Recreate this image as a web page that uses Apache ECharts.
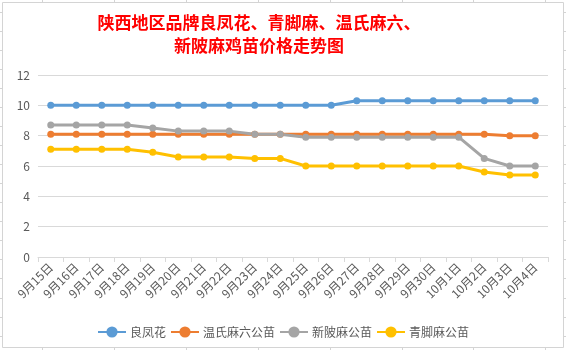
<!DOCTYPE html>
<html>
<head>
<meta charset="utf-8">
<script src="https://cdn.jsdelivr.net/npm/echarts@6/dist/echarts.min.js"></script>
<style>
  html, body { margin: 0; padding: 0; background: #fff; }
  #chart { width: 566px; height: 350px; }
</style>
</head>
<body>
<div id="chart"></div>
<script>
const dates = ['9月15日', '9月16日', '9月17日', '9月18日', '9月19日', '9月20日', '9月21日',
  '9月22日', '9月23日', '9月24日', '9月25日', '9月26日', '9月27日', '9月28日', '9月29日',
  '9月30日', '10月1日', '10月2日', '10月3日', '10月4日']

const liangfenghua = [10, 10, 10, 10, 10, 10, 10, 10, 10, 10, 10, 10, 10.3, 10.3, 10.3, 10.3, 10.3, 10.3, 10.3, 10.3]
const wenshi = [8.1, 8.1, 8.1, 8.1, 8.1, 8.1, 8.1, 8.1, 8.1, 8.1, 8.1, 8.1, 8.1, 8.1, 8.1, 8.1, 8.1, 8.1, 8.0, 8.0]
const xinpima = [8.7, 8.7, 8.7, 8.7, 8.5, 8.3, 8.3, 8.3, 8.1, 8.1, 7.9, 7.9, 7.9, 7.9, 7.9, 7.9, 7.9, 6.5, 6.0, 6.0]
const qingjiaoma = [7.1, 7.1, 7.1, 7.1, 6.9, 6.6, 6.6, 6.6, 6.5, 6.5, 6.0, 6.0, 6.0, 6.0, 6.0, 6.0, 6.0, 5.6, 5.4, 5.4]

const seriesNames = ['良凤花', '温氏麻六公苗', '新陂麻公苗', '青脚麻公苗']
const seriesData = [liangfenghua, wenshi, xinpima, qingjiaoma]
const colors = ['#5B9BD5', '#ED7D31', '#A5A5A5', '#FFC000']

const font = '"Noto Sans CJK SC", sans-serif'
const gridColor = '#d9d9d9'
const textColor = '#595959'

// spreadsheet cell lines peeking out around the chart box
const cellLines = []
const cols = [42, 114, 186, 258, 330, 402, 473, 545]
const rows = []
for (let y = 11.5; y < 350; y += 19.07) rows.push(Math.round(y) + 0.5)
cols.forEach(x => {
  cellLines.push({ type: 'line', shape: { x1: x + 0.5, y1: 0, x2: x + 0.5, y2: 2.5 }, style: { stroke: '#d4d4d4' }, silent: true })
  cellLines.push({ type: 'line', shape: { x1: x + 0.5, y1: 347.5, x2: x + 0.5, y2: 350 }, style: { stroke: '#d4d4d4' }, silent: true })
})
rows.forEach(y => {
  cellLines.push({ type: 'line', shape: { x1: 0, y1: y, x2: 2.5, y2: y }, style: { stroke: '#d4d4d4' }, silent: true })
  cellLines.push({ type: 'line', shape: { x1: 563.5, y1: y, x2: 566, y2: y }, style: { stroke: '#d4d4d4' }, silent: true })
})
cellLines.push({
  type: 'rect',
  shape: { x: 2.5, y: 2.5, width: 561, height: 345 },
  style: { fill: 'none', stroke: '#d4d4d4', lineWidth: 1 },
  silent: true
})

const chart = echarts.init(document.getElementById('chart'))

chart.setOption({
  animation: false,
  backgroundColor: '#fff',
  color: colors,
  textStyle: { fontFamily: font },
  graphic: cellLines,
  title: {
    text: '陕西地区品牌良凤花、青脚麻、温氏麻六、\n新陂麻鸡苗价格走势图',
    left: 259,
    top: 11,
    padding: 0,
    textAlign: 'center',
    textStyle: {
      color: '#FF0000',
      fontFamily: font,
      fontSize: 17,
      fontWeight: 'bold',
      lineHeight: 23
    }
  },
  legend: {
    data: seriesNames,
    left: 'center',
    top: 321,
    itemWidth: 28,
    itemHeight: 14,
    itemGap: 4,
    textStyle: { color: textColor, fontSize: 12, fontFamily: font, padding: [0, 0, 0, -1] }
  },
  grid: {
    left: 38,
    right: 18,
    top: 75,
    bottom: 93,
    containLabel: false
  },
  xAxis: {
    type: 'category',
    data: dates,
    boundaryGap: true,
    axisLine: { lineStyle: { color: gridColor, width: 1 } },
    axisTick: { show: true, length: 5, lineStyle: { color: gridColor } },
    axisLabel: {
      interval: 0,
      rotate: 45,
      margin: 8,
      color: textColor,
      fontSize: 12,
      fontFamily: font
    }
  },
  yAxis: {
    type: 'value',
    min: 0,
    max: 12,
    interval: 2,
    axisLine: { show: false },
    axisTick: { show: false },
    axisLabel: { color: textColor, fontSize: 12, margin: 8, fontFamily: font },
    splitLine: { lineStyle: { color: gridColor, width: 1 } }
  },
  series: seriesNames.map((name, i) => ({
    name,
    type: 'line',
    data: seriesData[i],
    symbol: 'circle',
    symbolSize: 7,
    lineStyle: { width: 3, color: colors[i] },
    itemStyle: { color: colors[i] }
  }))
})
</script>
</body>
</html>
